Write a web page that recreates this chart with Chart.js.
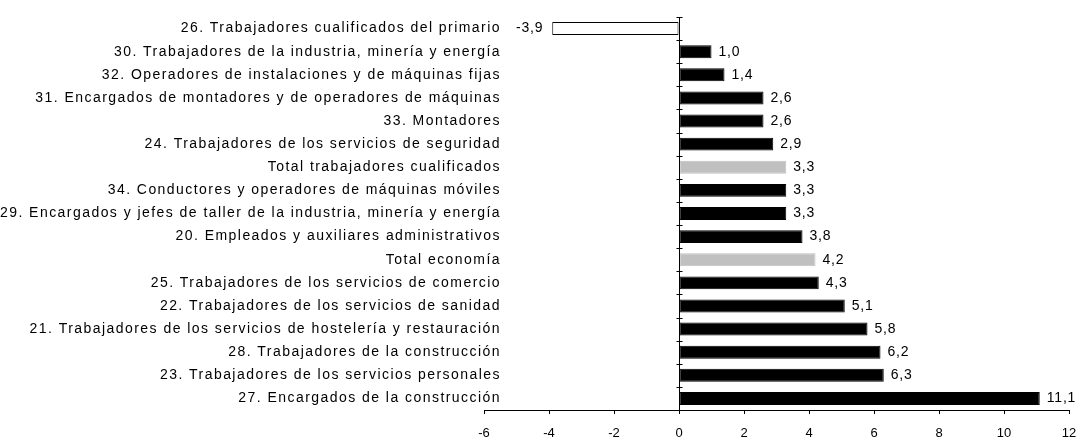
<!DOCTYPE html>
<html>
<head>
<meta charset="utf-8">
<script src="https://cdn.jsdelivr.net/npm/chart.js@4/dist/chart.umd.min.js"></script>
<style>
    html, body { margin: 0; padding: 0; background: #fff; }
    #wrap { width: 1079px; height: 438px; }
</style>
</head>
<body>
<div id="wrap"><canvas id="chart"></canvas></div>
<script>
const categories = [
    "26. Trabajadores cualificados del primario",
    "30. Trabajadores de la industria, minería y energía",
    "32. Operadores de instalaciones y de máquinas fijas",
    "31. Encargados de montadores y de operadores de máquinas",
    "33. Montadores",
    "24. Trabajadores de los servicios de seguridad",
    "Total trabajadores cualificados",
    "34. Conductores y operadores de máquinas móviles",
    "29. Encargados y jefes de taller de la industria, minería y energía",
    "20. Empleados y auxiliares administrativos",
    "Total economía",
    "25. Trabajadores de los servicios de comercio",
    "22. Trabajadores de los servicios de sanidad",
    "21. Trabajadores de los servicios de hostelería y restauración",
    "28. Trabajadores de la construcción",
    "23. Trabajadores de los servicios personales",
    "27. Encargados de la construcción"
];
const values = [-3.9, 1.0, 1.4, 2.6, 2.6, 2.9, 3.3, 3.3, 3.3, 3.8, 4.2, 4.3, 5.1, 5.8, 6.2, 6.3, 11.1];
const totals = ["Total trabajadores cualificados", "Total economía"];
const xMin = -6, xMax = 12, xStep = 2;

const font = "Liberation Sans, Arial, sans-serif";
const fillColors = categories.map((c, i) => totals.includes(c) ? "#c0c0c0" : (values[i] < 0 ? "#ffffff" : "#000000"));
const borderColors = categories.map((c, i) => values[i] < 0 ? "#000000" : fillColors[i]);

// category names drawn by hand so they can run past the axis edge like the original
const catLabels = {
    id: "catLabels",
    afterDraw(chart) {
        const { ctx, scales } = chart;
        ctx.save();
        ctx.letterSpacing = "1.45px";
        ctx.font = "14px " + font;
        ctx.fillStyle = "#000";
        ctx.textAlign = "right";
        ctx.textBaseline = "middle";
        categories.forEach((c, i) => {
            ctx.fillText(c, 501, scales.y.getPixelForValue(i));
        });
        ctx.restore();
    }
};

const zeroAxis = {
    id: "zeroAxis",
    afterDatasetsDraw(chart) {
        const { ctx, chartArea, scales } = chart;
        const x0 = Math.round(scales.x.getPixelForValue(0)) + 0.5;
        ctx.save();
        ctx.strokeStyle = "#000";
        ctx.lineWidth = 1;
        ctx.beginPath();
        ctx.moveTo(x0, chartArea.top);
        ctx.lineTo(x0, chartArea.bottom);
        const n = categories.length;
        const step = (chartArea.bottom - chartArea.top) / n;
        for (let i = 0; i < n; i++) {
            const y = Math.round(scales.y.getPixelForValue(i) - step / 2) + 0.5;
            ctx.moveTo(x0 - 3, y);
            ctx.lineTo(x0 + 3, y);
        }
        ctx.stroke();
        ctx.restore();
    }
};

const valueLabels = {
    id: "valueLabels",
    afterDatasetsDraw(chart) {
        const { ctx } = chart;
        const meta = chart.getDatasetMeta(0);
        ctx.save();
        ctx.letterSpacing = "0.8px";
        ctx.font = "14px " + font;
        ctx.fillStyle = "#000";
        ctx.textBaseline = "middle";
        meta.data.forEach((bar, i) => {
            const txt = values[i].toFixed(1).replace(".", ",");
            if (values[i] < 0) {
                ctx.textAlign = "right";
                ctx.fillText(txt, bar.x - 9, bar.y);
            } else {
                ctx.textAlign = "left";
                ctx.fillText(txt, bar.x + 7, bar.y);
            }
        });
        ctx.restore();
    }
};

new Chart(document.getElementById("chart"), {
    type: "bar",
    data: {
        labels: categories,
        datasets: [{
            data: values,
            backgroundColor: fillColors,
            borderColor: borderColors,
            borderWidth: 1,
            borderSkipped: false,
            barPercentage: 0.56,
            categoryPercentage: 1
        }]
    },
    options: {
        indexAxis: "y",
        responsive: true,
        maintainAspectRatio: false,
        animation: false,
        layout: { padding: { top: 17, right: 10, left: 0, bottom: 0 } },
        plugins: { legend: { display: false }, tooltip: { enabled: false } },
        scales: {
            x: {
                min: xMin,
                max: xMax,
                ticks: {
                    stepSize: xStep,
                    color: "#000",
                    padding: 12,
                    font: { family: font, size: 13 },
                    maxRotation: 0
                },
                grid: { drawOnChartArea: false, drawTicks: true, tickLength: 4, color: "#000" },
                border: { display: true, color: "#000" },
                afterFit(s) {
                    s.height = 28;
                    s.paddingLeft = 0;
                    s.paddingRight = 0;
                }
            },
            y: {
                ticks: { display: false },
                grid: { display: false },
                border: { display: false },
                afterFit(s) { s.width = 484; }
            }
        }
    },
    plugins: [zeroAxis, valueLabels, catLabels]
});
</script>
</body>
</html>
